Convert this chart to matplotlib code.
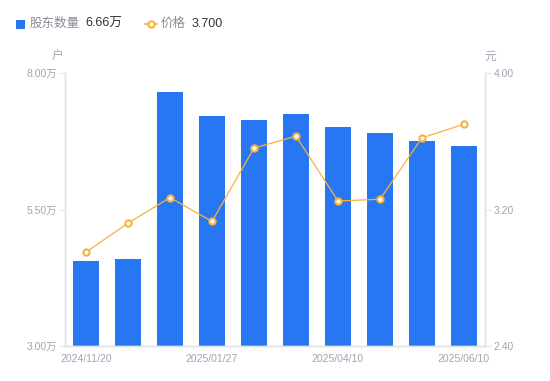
import numpy as np
import matplotlib.pyplot as plt

plt.rcParams['font.family'] = ['Liberation Sans', 'Noto Sans CJK SC', 'DejaVu Sans']

# shareholder count (万户) and price (元)
dates = ['2024/11/20', '', '', '2025/01/27', '', '', '2025/04/10', '', '', '2025/06/10']
holders = [4.56, 4.59, 7.65, 7.21, 7.14, 7.25, 7.01, 6.90, 6.75, 6.66]
price = [2.95, 3.12, 3.27, 3.13, 3.56, 3.63, 3.25, 3.26, 3.62, 3.70]

BLUE = '#2777F2'
ORANGE = '#F7B23B'
GRAY = '#A3A3B5'
AXIS = '#E3E3E8'

fig = plt.figure(figsize=(5.5, 3.81), dpi=100)
ax = fig.add_axes([65/550, 35/381, 420/550, 273/381])
ax2 = ax.twinx()

x = np.arange(len(holders))
ax.bar(x, holders, width=0.6, color=BLUE, zorder=2)
ax.set_xlim(-0.5, len(holders) - 0.5)
ax.set_ylim(3.0, 8.0)
ax.set_yticks([3.0, 5.5, 8.0])
ax.set_yticklabels(['3.00万', '5.50万', '8.00万'])

ax2.plot(x, price, color=ORANGE, lw=0.9, marker='o', ms=4.5,
         markerfacecolor='white', markeredgecolor=ORANGE, markeredgewidth=1.5, zorder=3)
ax2.set_ylim(2.40, 4.00)
ax2.set_yticks([2.40, 3.20, 4.00])
ax2.set_yticklabels(['2.40', '3.20', '4.00'])

ax.set_xticks(x)
ax.set_xticklabels(dates)
ax.tick_params(axis='x', length=0, pad=6, labelsize=7.5, colors=GRAY)
ax.tick_params(axis='y', length=4, width=0.8, color=AXIS, labelsize=7.5, labelcolor=GRAY, pad=2)
ax2.tick_params(axis='y', length=4, width=0.8, color=AXIS, labelsize=7.5, labelcolor=GRAY, pad=2)

for a in (ax, ax2):
    for s in a.spines.values():
        s.set_color(AXIS)
        s.set_linewidth(1)
    a.spines['top'].set_visible(False)

fig.text(58/550, 1 - 57/381, '户', color=GRAY, fontsize=8.5, ha='center', va='center')
fig.text(490/550, 1 - 57/381, '元', color=GRAY, fontsize=8.5, ha='center', va='center')

# legend row
fig.patches.append(plt.Rectangle((16/550, 1 - 29/381), 9/550, 9/381, transform=fig.transFigure,
                                 facecolor=BLUE, edgecolor='none', figure=fig))
fig.text(30/550, 1 - 24/381, '股东数量', color='#8A8A99', fontsize=9, va='center')
fig.text(85/550, 1 - 24/381, '6.66万', color='#333333', fontsize=9, va='center')
fig.lines.append(plt.Line2D([145/550, 157/550], [1 - 24/381, 1 - 24/381], transform=fig.transFigure,
                            color=ORANGE, lw=1.2, figure=fig))
fig.lines.append(plt.Line2D([151/550], [1 - 24/381], transform=fig.transFigure, color=ORANGE,
                            marker='o', ms=4.5, markerfacecolor='white', markeredgewidth=1.5,
                            linestyle='none', figure=fig))
fig.text(161/550, 1 - 24/381, '价格', color='#8A8A99', fontsize=9, va='center')
fig.text(192/550, 1 - 24/381, '3.700', color='#333333', fontsize=9, va='center')

fig.savefig('out.png', dpi=100)
